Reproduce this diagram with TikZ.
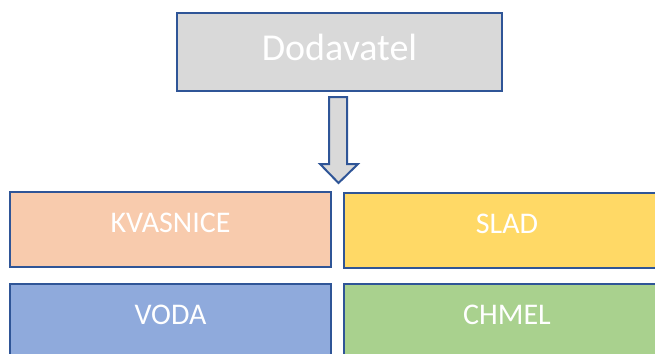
\documentclass[tikz,border=0pt]{standalone}
\usepackage{fontspec}
\setmainfont{Carlito}
\usetikzlibrary{calc}
\definecolor{bordblue}{HTML}{2F5597}
\definecolor{boxgray}{HTML}{D9D9D9}
\definecolor{peach}{HTML}{F8CBAD}
\definecolor{gold}{HTML}{FFD966}
\definecolor{skyblue}{HTML}{8FAADC}
\definecolor{leaf}{HTML}{A9D18E}
\tikzset{
  topbox/.style={draw=bordblue, line width=2pt, fill=boxgray, text=white,
    inner sep=0pt, minimum width=325pt, minimum height=78pt,
    font=\fontsize{38}{40}\selectfont, text height=25pt, text depth=8pt},
  itembox/.style={draw=bordblue, line width=2pt, text=white,
    inner sep=0pt, minimum width=321pt, minimum height=75pt,
    font=\fontsize{30}{32}\selectfont, text height=20pt, text depth=15pt},
  blockarrow/.style={draw=bordblue, line width=2pt, fill=boxgray, line join=miter}
}
\begin{document}
\begin{tikzpicture}[x=1pt,y=-1pt]
\useasboundingbox (0,0) rectangle (655,353);
\clip (0,0) rectangle (655,353);
\node[topbox] (dod) at (339.5,52) {Dodavatel};
\node[itembox, fill=peach] (kva) at (170.5,229.5) {KVASNICE};
\node[itembox, fill=gold, minimum width=326pt] (slad) at (507,230.5) {SLAD};
\node[itembox, fill=skyblue] (voda) at (170.5,321.5) {VODA};
\node[itembox, fill=leaf, minimum width=326pt] (chmel) at (507,321.5) {CHMEL};
\draw[blockarrow]
  ($(dod.south)+(-10.5,5)$) -- ($(dod.south)+(7.5,5)$) --
  ($(dod.south)+(7.5,72)$) -- ($(dod.south)+(18.5,72)$) --
  ($(dod.south)+(-1,91)$) -- ($(dod.south)+(-19.5,72)$) --
  ($(dod.south)+(-10.5,72)$) -- cycle;
\end{tikzpicture}
\end{document}
